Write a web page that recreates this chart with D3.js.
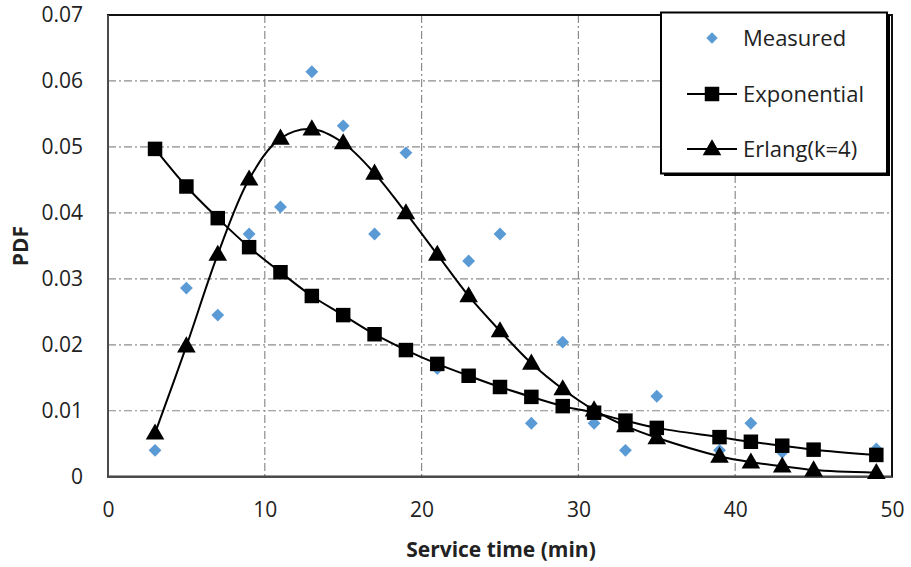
<!DOCTYPE html>
<html>
<head>
<meta charset="utf-8">
<script src="https://cdn.jsdelivr.net/npm/d3@7"></script>
<style>
  html, body { margin: 0; padding: 0; background: #fff; }
  svg { display: block; }
  text { font-family: "Open Sans", "Noto Sans", sans-serif; fill: #222; }
</style>
</head>
<body>
<svg id="chart" width="911" height="567"></svg>
<script>
// Service time bins (minutes, bin centres)
const measuredX = [3, 5, 7, 9, 11, 13, 15, 17, 19, 21, 23, 25, 27, 29, 31, 33, 35, 39, 41, 43, 49];
const measuredY = [0.0040, 0.0286, 0.0245, 0.0368, 0.0409, 0.0614, 0.0532, 0.0368, 0.0491, 0.0164,
                   0.0327, 0.0368, 0.0081, 0.0204, 0.0081, 0.0040, 0.0122, 0.0040, 0.0081, 0.0037, 0.0042];

// Fitted distributions evaluated at the bin centres
const fitX = [3, 5, 7, 9, 11, 13, 15, 17, 19, 21, 23, 25, 27, 29, 31, 33, 35, 39, 41, 43, 45, 49];
const exponentialY = [0.0497, 0.0440, 0.0392, 0.0348, 0.0310, 0.0274, 0.0245, 0.0216, 0.0192, 0.0171, 0.0153,
                      0.0136, 0.0121, 0.0107, 0.0097, 0.0085, 0.0074, 0.0060, 0.0053, 0.0047, 0.0041, 0.0033];
const erlangY = [0.0066, 0.0198, 0.0337, 0.0451, 0.0513, 0.0527, 0.0506, 0.0460, 0.0400, 0.0337, 0.0274,
                 0.0221, 0.0172, 0.0133, 0.0101, 0.0077, 0.0059, 0.0031, 0.0022, 0.0016, 0.0010, 0.0006];

const xTicks = [0, 10, 20, 30, 40, 50];
const yTicks = [0, 0.01, 0.02, 0.03, 0.04, 0.05, 0.06, 0.07];
const seriesNames = ["Measured", "Exponential", "Erlang(k=4)"];

const svg = d3.select("#chart");
const plot = { left: 108, right: 892, top: 15, bottom: 476.7 };

const x = d3.scaleLinear().domain([0, 50]).range([plot.left, plot.right]);
const y = d3.scaleLinear().domain([0, 0.07]).range([plot.bottom, plot.top]);

// Dash-dot gridlines
const grid = svg.append("g").attr("stroke", "#8c8c8c").attr("stroke-width", 1.2)
  .attr("stroke-dasharray", "8,3,2,3");
grid.selectAll("line.v").data(xTicks.slice(1, -1)).join("line")
  .attr("x1", d => x(d)).attr("x2", d => x(d))
  .attr("y1", plot.top).attr("y2", plot.bottom);
grid.selectAll("line.h").data(yTicks.slice(1, -1)).join("line")
  .attr("x1", plot.left).attr("x2", plot.right)
  .attr("y1", d => y(d)).attr("y2", d => y(d));

// Plot frame
svg.append("rect")
  .attr("x", plot.left).attr("y", plot.top)
  .attr("width", plot.right - plot.left).attr("height", plot.bottom - plot.top)
  .attr("fill", "none").attr("stroke", "#111").attr("stroke-width", 2);
svg.append("line").attr("x1", plot.left).attr("x2", plot.left).attr("y1", plot.top).attr("y2", plot.bottom)
  .attr("stroke", "#4a4a4a").attr("stroke-width", 2);
svg.append("line").attr("x1", plot.left).attr("x2", plot.right).attr("y1", plot.bottom).attr("y2", plot.bottom)
  .attr("stroke", "#4a4a4a").attr("stroke-width", 2);

// Axes (labels only; the frame draws the axis lines)
const xAxis = d3.axisBottom(x).tickValues(xTicks).tickSize(0).tickPadding(25).tickFormat(d3.format("d"));
svg.append("g").attr("transform", `translate(0,${plot.bottom})`).call(xAxis)
  .call(g => g.select(".domain").remove())
  .selectAll("text").attr("font-size", 21).attr("font-family", "'Open Sans', sans-serif").attr("fill", "#222");

const yAxis = d3.axisLeft(y).tickValues(yTicks).tickSize(0).tickPadding(25)
  .tickFormat(d => d === 0 ? "0" : d3.format(".2f")(d));
svg.append("g").attr("transform", `translate(${plot.left},0)`).call(yAxis)
  .call(g => g.select(".domain").remove())
  .selectAll("text").attr("font-size", 21).attr("font-family", "'Open Sans', sans-serif").attr("fill", "#222");

// Axis titles
svg.append("text").attr("x", 501).attr("y", 557)
  .attr("text-anchor", "middle").attr("font-size", 21).attr("font-weight", "bold")
  .text("Service time (min)");
svg.append("text").attr("transform", "translate(28,246) rotate(-90)")
  .attr("text-anchor", "middle").attr("font-size", 21).attr("font-weight", "bold")
  .text("PDF");

// Marker shapes
const diamond = d3.symbol().type(d3.symbolSquare).size(82);
const square = d3.symbol().type(d3.symbolSquare).size(210);
const triangle = d3.symbol().type(d3.symbolTriangle).size(150);

// Measured points
const measured = measuredX.map((d, i) => [d, measuredY[i]]);
svg.append("g").selectAll("path").data(measured).join("path")
  .attr("d", diamond)
  .attr("transform", d => `translate(${x(d[0])},${y(d[1])}) rotate(45)`)
  .attr("fill", "#5b9bd5");

// Exponential fit
const expo = fitX.map((d, i) => [d, exponentialY[i]]);
svg.append("path").datum(expo)
  .attr("d", d3.line().x(d => x(d[0])).y(d => y(d[1])).curve(d3.curveCatmullRom))
  .attr("fill", "none").attr("stroke", "#000").attr("stroke-width", 2);
svg.append("g").selectAll("path").data(expo).join("path")
  .attr("d", square)
  .attr("transform", d => `translate(${x(d[0])},${y(d[1])})`)
  .attr("fill", "#000");

// Erlang(k=4) fit
const erl = fitX.map((d, i) => [d, erlangY[i]]);
svg.append("path").datum(erl)
  .attr("d", d3.line().x(d => x(d[0])).y(d => y(d[1])).curve(d3.curveCatmullRom))
  .attr("fill", "none").attr("stroke", "#000").attr("stroke-width", 2);
svg.append("g").selectAll("path").data(erl).join("path")
  .attr("d", triangle)
  .attr("transform", d => `translate(${x(d[0])},${y(d[1]) + 1})`)
  .attr("fill", "#000");

// Legend
const lg = svg.append("g");
lg.append("rect").attr("x", 664).attr("y", 15).attr("width", 226).attr("height", 161).attr("fill", "#000");
lg.append("rect").attr("x", 661).attr("y", 12.5).attr("width", 226).attr("height", 161)
  .attr("fill", "#fff").attr("stroke", "#000").attr("stroke-width", 2);
const rowsY = [38, 94, 149];
const sampleX0 = 687, sampleX1 = 737, sampleMid = 712;
lg.append("path").attr("d", d3.symbol().type(d3.symbolSquare).size(64))
  .attr("transform", `translate(${sampleMid},${rowsY[0]}) rotate(45)`).attr("fill", "#5b9bd5");
[1, 2].forEach(i => {
  lg.append("line").attr("x1", sampleX0).attr("x2", sampleX1)
    .attr("y1", rowsY[i]).attr("y2", rowsY[i]).attr("stroke", "#000").attr("stroke-width", 2);
});
lg.append("path").attr("d", square).attr("transform", `translate(${sampleMid},${rowsY[1]})`).attr("fill", "#000");
lg.append("path").attr("d", triangle).attr("transform", `translate(${sampleMid},${rowsY[2] + 1})`).attr("fill", "#000");
lg.selectAll("text.item").data(seriesNames).join("text")
  .attr("x", 743).attr("y", (d, i) => rowsY[i]).attr("dy", "0.35em")
  .attr("font-size", 22).text(d => d);
</script>
</body>
</html>
